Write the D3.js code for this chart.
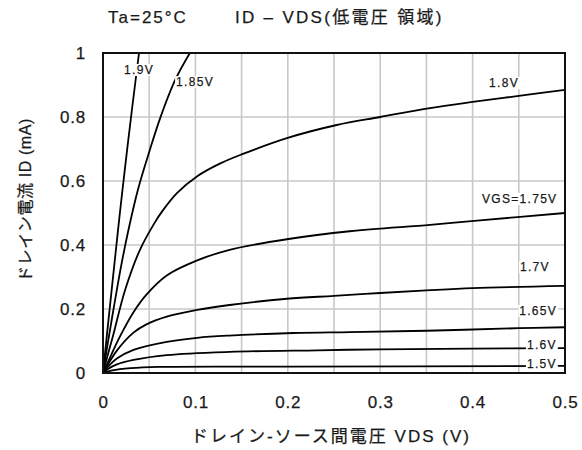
<!DOCTYPE html>
<html><head><meta charset="utf-8">
<script src="https://cdn.jsdelivr.net/npm/d3@7"></script>
<style>body{margin:0;background:#fff}svg{display:block}</style>
</head><body><svg id="c" width="582" height="450"></svg>
<script>
// ---- data ----
const xTicks = [0, 0.1, 0.2, 0.3, 0.4, 0.5];
const yTicks = [0, 0.2, 0.4, 0.6, 0.8, 1];
const xTickLabels = ["0", "0.1", "0.2", "0.3", "0.4", "0.5"];
const yTickLabels = ["0", "0.2", "0.4", "0.6", "0.8", "1"];
const xGridVals = [0.05, 0.1, 0.15, 0.2, 0.25, 0.3, 0.35, 0.4, 0.45];
const yGridVals = [0.2, 0.4, 0.6, 0.8];

const vgsNames = ["1.9V", "1.85V", "1.8V", "VGS=1.75V", "1.7V", "1.65V", "1.6V", "1.5V"];

const vds19 = [0, 0.005, 0.0105, 0.0162, 0.0206, 0.026, 0.0314, 0.0357, 0.039];
const id19  = [0, 0.14, 0.29, 0.445, 0.56, 0.695, 0.825, 0.925, 1.0];

const vds185 = [0, 0.005, 0.012, 0.02, 0.027, 0.038, 0.051, 0.0617, 0.078, 0.094];
const id185  = [0, 0.09, 0.21, 0.34, 0.44, 0.575, 0.70, 0.795, 0.915, 1.0];

const vds18 = [0, 0.005, 0.011, 0.024, 0.040, 0.056, 0.064, 0.080, 0.102, 0.127, 0.15, 0.199, 0.253, 0.3, 0.354, 0.4, 0.45, 0.5];
const id18  = [0, 0.055, 0.118, 0.26, 0.385, 0.47, 0.505, 0.562, 0.615, 0.655, 0.683, 0.734, 0.775, 0.80, 0.828, 0.847, 0.866, 0.885];

const vds175 = [0, 0.005, 0.018, 0.033, 0.047, 0.069, 0.102, 0.137, 0.199, 0.267, 0.354, 0.408, 0.5];
const id175  = [0, 0.032, 0.112, 0.19, 0.245, 0.305, 0.352, 0.385, 0.418, 0.443, 0.463, 0.477, 0.5];

const vds17 = [0, 0.005, 0.015, 0.033, 0.047, 0.069, 0.102, 0.137, 0.199, 0.25, 0.3, 0.35, 0.4, 0.5];
const id17  = [0, 0.025, 0.07, 0.126, 0.152, 0.176, 0.197, 0.2125, 0.232, 0.241, 0.25, 0.258, 0.265, 0.272];

const vds165 = [0, 0.005, 0.015, 0.033, 0.069, 0.102, 0.137, 0.206, 0.267, 0.35, 0.45, 0.5];
const id165  = [0, 0.018, 0.045, 0.072, 0.097, 0.11, 0.117, 0.125, 0.128, 0.132, 0.14, 0.143];

const vds16 = [0, 0.005, 0.015, 0.033, 0.069, 0.137, 0.232, 0.3, 0.4, 0.5];
const id16  = [0, 0.012, 0.027, 0.041, 0.056, 0.066, 0.071, 0.074, 0.076, 0.078];

const vds15 = [0, 0.01, 0.03, 0.06, 0.2, 0.5];
const id15  = [0, 0.008, 0.015, 0.019, 0.02, 0.022];

// label anchor positions in data units (Vds, Id)
const labelVds = [0.039, 0.0996, 0.434, 0.451, 0.4675, 0.471, 0.475, 0.475];
const labelId  = [0.947, 0.909, 0.906, 0.544, 0.331, 0.194, 0.0875, 0.028];

const titleLeft = "Ta=25°C";
const titleMain = "ID – VDS(低電圧 領域)";
const xTitle = "ドレイン-ソース間電圧 VDS (V)";
const yTitle = "ドレイン電流 ID (mA)";

// ---- drawing ----
const series = [
  [vds19, id19], [vds185, id185], [vds18, id18], [vds175, id175],
  [vds17, id17], [vds165, id165], [vds16, id16], [vds15, id15]
].map(([v, i]) => v.map((d, k) => [d, i[k]]));

const L = 103, R = 565, T = 53, B = 373;
const x = d3.scaleLinear().domain([0, 0.5]).range([L, R]);
const y = d3.scaleLinear().domain([0, 1]).range([B, T]);

const font = "'Liberation Sans', Arial, 'Noto Sans CJK JP', sans-serif";
const txtColor = "#1a1a1a";
const svg = d3.select("#c");
svg.append("rect").attr("width", 582).attr("height", 450).attr("fill", "#fff");

svg.append("defs").append("clipPath").attr("id", "clip")
  .append("rect").attr("x", L).attr("y", T).attr("width", R - L).attr("height", B - T);

// grid
const g = svg.append("g");
g.selectAll("line.gx").data(xGridVals).join("line")
  .attr("x1", d => x(d)).attr("x2", d => x(d)).attr("y1", T).attr("y2", B)
  .attr("stroke", "#c8c8c8").attr("stroke-width", 1.6);
g.selectAll("line.gy").data(yGridVals).join("line")
  .attr("y1", d => y(d)).attr("y2", d => y(d)).attr("x1", L).attr("x2", R)
  .attr("stroke", "#c8c8c8").attr("stroke-width", 1.6);

// curves
const line = d3.line().x(d => x(d[0])).y(d => y(d[1])).curve(d3.curveCatmullRom.alpha(0.5));
svg.append("g").attr("clip-path", "url(#clip)")
  .selectAll("path").data(series).join("path")
  .attr("d", line).attr("fill", "none").attr("stroke", "#000").attr("stroke-width", 1.8);

// frame
svg.append("rect").attr("x", L).attr("y", T).attr("width", R - L).attr("height", B - T)
  .attr("fill", "none").attr("stroke", "#111").attr("stroke-width", 2);

function styleText(sel, size, ls) {
  return sel.attr("font-family", font).attr("font-size", size).attr("letter-spacing", ls)
    .attr("fill", txtColor).attr("stroke", txtColor).attr("stroke-width", 0.25);
}

// curve labels with white background
const lg = svg.append("g");
vgsNames.forEach((name, k) => {
  const gg = lg.append("g");
  const t = styleText(gg.append("text").text(name)
    .attr("x", x(labelVds[k])).attr("y", y(labelId[k]))
    .attr("text-anchor", "middle").attr("dominant-baseline", "central"), 12, 1.3);
  const bb = t.node().getBBox();
  gg.insert("rect", "text").attr("x", bb.x - 1).attr("y", bb.y + 1)
    .attr("width", bb.width + 2).attr("height", bb.height - 2).attr("fill", "#fff");
});

// axes (tick labels only)
const xAxis = d3.axisBottom(x).tickValues(xTicks).tickFormat((d, i) => xTickLabels[i]).tickSize(0).tickPadding(0);
const ax = svg.append("g").attr("transform", `translate(0,${B})`).call(xAxis);
ax.select(".domain").remove();
styleText(ax.selectAll("text").attr("y", 29).attr("dy", "0.35em"), 17, 0.8);

const yAxis = d3.axisLeft(y).tickValues(yTicks).tickFormat((d, i) => yTickLabels[i]).tickSize(0).tickPadding(0);
const ay = svg.append("g").attr("transform", `translate(${L},0)`).call(yAxis);
ay.select(".domain").remove();
styleText(ay.selectAll("text").attr("x", -17).attr("dy", "0.35em"), 17, 0.8);

// titles
styleText(svg.append("text").text(titleLeft).attr("x", 108).attr("y", 17).attr("dominant-baseline", "central"), 17, 2);
styleText(svg.append("text").text(titleMain).attr("x", 235).attr("y", 17).attr("dominant-baseline", "central"), 17, 2.3);
styleText(svg.append("text").text(xTitle).attr("x", 331).attr("y", 436)
  .attr("text-anchor", "middle").attr("dominant-baseline", "central"), 17, 2);
styleText(svg.append("text").text(yTitle)
  .attr("transform", "translate(25,200) rotate(-90)")
  .attr("text-anchor", "middle").attr("dominant-baseline", "central"), 16, 0.6);
</script>
</body></html>
